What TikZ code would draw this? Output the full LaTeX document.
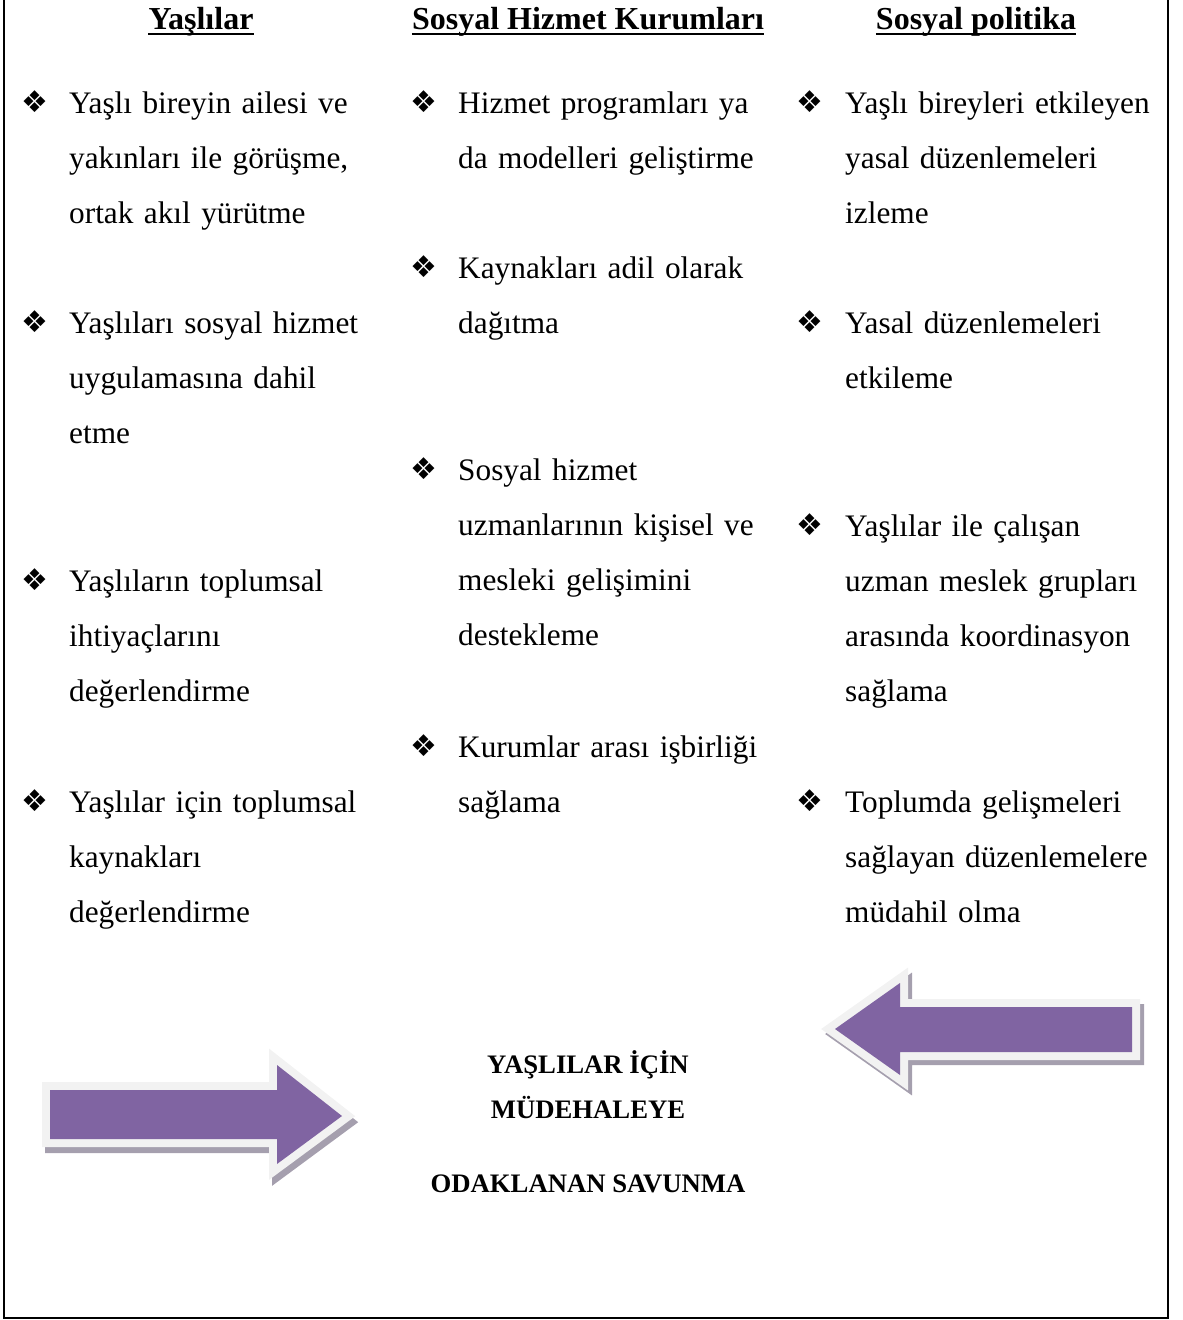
\documentclass[tikz,border=0pt]{standalone}
\usepackage{fontspec}
\setmainfont{Liberation Serif}
\newfontfamily\symfont{DejaVu Sans}
\definecolor{arrowpurple}{HTML}{8064A2}
\definecolor{rimgray}{HTML}{F2F2F2}
\definecolor{shadegray}{HTML}{A59FAE}

\begin{document}
\begin{tikzpicture}[x=1pt,y=-1pt,
  colhead/.style={font=\bfseries\fontsize{32}{38}\selectfont, inner sep=0pt, anchor=base},
  headline/.style={line width=1.6pt},
  item/.style={font=\fontsize{31.3}{55.1}\selectfont, align=left, text width=340pt, inner sep=0pt, anchor=base west},
  bul/.style={font=\symfont\fontsize{30}{30}\selectfont, inner sep=0pt},
  focus/.style={font=\bfseries\fontsize{26.7}{30}\selectfont, inner sep=0pt, anchor=base},
  shade/.style={draw=shadegray, fill=shadegray, line width=16pt, line join=miter},
  rim/.style={draw=rimgray, fill=rimgray, line width=16pt, line join=miter}]
  \useasboundingbox (0,0) rectangle (1183,1320);
  % frame
  \draw[line width=2pt] (4,0) -- (4,1318) -- (1168,1318) -- (1168,0);

  % column headings
  \node[colhead] (hyasli) at (201,29) {Yaşlılar};
  \node[colhead] (hkurum) at (588,29) {Sosyal Hizmet Kurumları};
  \node[colhead] (hpolit) at (976,29) {Sosyal politika};
  \draw[headline] ([yshift=-5pt]hyasli.base west) -- ([yshift=-5pt]hyasli.base east);
  \draw[headline] ([yshift=-5pt]hkurum.base west) -- ([yshift=-5pt]hkurum.base east);
  \draw[headline] ([yshift=-5pt]hpolit.base west) -- ([yshift=-5pt]hpolit.base east);

  % left column
  \node[bul] (ba1) at (35,102) {❖};
  \node[item] (a1) at (69,113) {Yaşlı bireyin ailesi ve\\yakınları ile görüşme,\\ortak akıl yürütme};
  \node[bul] (ba2) at (35,322) {❖};
  \node[item] (a2) at (69,333) {Yaşlıları sosyal hizmet\\uygulamasına dahil\\etme};
  \node[bul] (ba3) at (35,580) {❖};
  \node[item] (a3) at (69,591) {Yaşlıların toplumsal\\ihtiyaçlarını\\değerlendirme};
  \node[bul] (ba4) at (35,801) {❖};
  \node[item] (a4) at (69,812) {Yaşlılar için toplumsal\\kaynakları\\değerlendirme};

  % middle column
  \node[bul] (bb1) at (424,102) {❖};
  \node[item] (b1) at (458,113) {Hizmet programları ya\\da modelleri geliştirme};
  \node[bul] (bb2) at (424,267) {❖};
  \node[item] (b2) at (458,278) {Kaynakları adil olarak\\dağıtma};
  \node[bul] (bb3) at (424,469) {❖};
  \node[item] (b3) at (458,480) {Sosyal hizmet\\uzmanlarının kişisel ve\\mesleki gelişimini\\destekleme};
  \node[bul] (bb4) at (424,746) {❖};
  \node[item] (b4) at (458,757) {Kurumlar arası işbirliği\\sağlama};

  % right column
  \node[bul] (bc1) at (810,102) {❖};
  \node[item] (c1) at (845,113) {Yaşlı bireyleri etkileyen\\yasal düzenlemeleri\\izleme};
  \node[bul] (bc2) at (810,322) {❖};
  \node[item] (c2) at (845,333) {Yasal düzenlemeleri\\etkileme};
  \node[bul] (bc3) at (810,525) {❖};
  \node[item] (c3) at (845,536) {Yaşlılar ile çalışan\\uzman meslek grupları\\arasında koordinasyon\\sağlama};
  \node[bul] (bc4) at (810,801) {❖};
  \node[item] (c4) at (845,812) {Toplumda gelişmeleri\\sağlayan düzenlemelere\\müdahil olma};

  % arrow pointing right
  \filldraw[shade, shift={(3,6)}] (50,1090) -- (277,1090) -- (277,1065) -- (342,1116) -- (277,1164) -- (277,1139) -- (50,1139) -- cycle;
  \filldraw[rim] (50,1090) -- (277,1090) -- (277,1065) -- (342,1116) -- (277,1164) -- (277,1139) -- (50,1139) -- cycle;
  \fill[arrowpurple] (50,1090) -- (277,1090) -- (277,1065) -- (342,1116) -- (277,1164) -- (277,1139) -- (50,1139) -- cycle;

  % arrow pointing left
  \filldraw[shade, shift={(4,5)}] (1132,1007) -- (900,1007) -- (900,983) -- (835,1029) -- (900,1075) -- (900,1052) -- (1132,1052) -- cycle;
  \filldraw[rim] (1132,1007) -- (900,1007) -- (900,983) -- (835,1029) -- (900,1075) -- (900,1052) -- (1132,1052) -- cycle;
  \fill[arrowpurple] (1132,1007) -- (900,1007) -- (900,983) -- (835,1029) -- (900,1075) -- (900,1052) -- (1132,1052) -- cycle;

  % centre text
  \node[focus] (f1) at (588,1073) {YAŞLILAR İÇİN};
  \node[focus] (f2) at (588,1118) {MÜDEHALEYE};
  \node[focus] (f3) at (588,1192) {ODAKLANAN SAVUNMA};
\end{tikzpicture}
\end{document}
